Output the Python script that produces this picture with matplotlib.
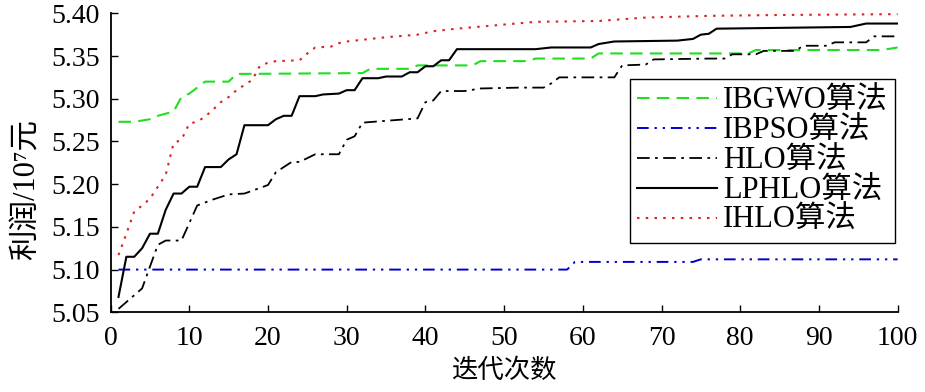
import matplotlib
matplotlib.use("Agg")
import matplotlib.pyplot as plt

plt.rcParams['font.family'] = ['Liberation Serif', 'DejaVu Serif', 'Noto Sans CJK SC']

# iteration / profit breakpoints
ibgwo_x = [1, 3, 5, 6, 8, 9, 10, 12, 15, 16, 32, 33, 38, 39, 46, 47, 53, 54, 61, 62, 81, 82, 98, 100]
ibgwo_y = [5.273, 5.273, 5.276, 5.280, 5.285, 5.302, 5.306, 5.320, 5.320, 5.329, 5.330, 5.335,
           5.335, 5.339, 5.339, 5.344, 5.344, 5.347, 5.347, 5.353, 5.353, 5.357, 5.357, 5.360]

ibpso_x = [1, 58, 59, 74, 75, 100]
ibpso_y = [5.100, 5.100, 5.109, 5.109, 5.112, 5.112]

hlo_x = [1, 3, 4, 6, 7, 9, 11, 13, 15, 17, 20, 21, 23, 24, 26, 29, 30, 31, 32, 39,
         40, 41, 42, 45, 47, 52, 55, 56, 57, 64, 65, 68, 69, 76, 78, 79, 82, 83, 87, 88,
         91, 92, 96, 97, 100]
hlo_y = [5.054, 5.070, 5.078, 5.129, 5.134, 5.134, 5.175, 5.182, 5.188, 5.189,
         5.199, 5.214, 5.226, 5.226, 5.235, 5.235, 5.252, 5.256, 5.272, 5.277,
         5.296, 5.298, 5.309, 5.309, 5.312, 5.313, 5.313, 5.318, 5.325, 5.325,
         5.339, 5.340, 5.346, 5.347, 5.347, 5.352, 5.352, 5.356, 5.356, 5.362,
         5.362, 5.366, 5.366, 5.373, 5.373]

lphlo_x = [1, 2, 3, 4, 5, 6, 7, 8, 9, 10, 11, 12, 14, 15, 16, 17, 20, 21, 22, 23,
           24, 26, 27, 29, 30, 31, 32, 34, 35, 37, 38, 39, 40, 41, 42, 43, 44, 54, 56, 61,
           62, 64, 72, 74, 75, 76, 77, 94, 96, 100]
lphlo_y = [5.068, 5.115, 5.115, 5.125, 5.142, 5.142, 5.170, 5.189, 5.189, 5.197,
           5.197, 5.220, 5.220, 5.229, 5.235, 5.269, 5.269, 5.276, 5.280, 5.280,
           5.303, 5.303, 5.305, 5.306, 5.310, 5.310, 5.324, 5.324, 5.326, 5.326,
           5.331, 5.331, 5.338, 5.338, 5.345, 5.345, 5.358, 5.358, 5.360, 5.360,
           5.364, 5.367, 5.368, 5.370, 5.375, 5.376, 5.382, 5.384, 5.388, 5.388]

ihlo_x = [1, 2, 3, 4, 5, 6, 7, 8, 9, 10, 11, 12, 13, 14, 15, 16, 17, 18, 19, 20,
          21, 24, 25, 26, 28, 29, 30, 32, 35, 39, 41, 44, 49, 54, 62, 68, 76, 85, 100]
ihlo_y = [5.117, 5.142, 5.168, 5.175, 5.183, 5.197, 5.211, 5.248, 5.252, 5.271,
          5.273, 5.279, 5.287, 5.296, 5.302, 5.310, 5.316, 5.322, 5.339, 5.342,
          5.344, 5.345, 5.353, 5.360, 5.361, 5.365, 5.367, 5.369, 5.372, 5.375,
          5.379, 5.382, 5.386, 5.390, 5.391, 5.395, 5.397, 5.398, 5.399]

labels = ['IBGWO算法', 'IBPSO算法', 'HLO算法', 'LPHLO算法', 'IHLO算法']

fig = plt.figure(figsize=(9.25, 3.92), dpi=100)
ax = fig.add_axes([0.1196, 0.2033, 0.8508, 0.7628])

ax.plot(ibgwo_x, ibgwo_y, color='#22dd22', lw=1.5, ls=(0, (6, 3.5)), label=labels[0])
ax.plot(ibpso_x, ibpso_y, color='#0000cc', lw=1.4, ls=(0, (6, 3, 1.2, 3, 1.2, 3)), label=labels[1])
ax.plot(hlo_x, hlo_y, color='black', lw=1.3, ls=(0, (7, 3, 1.5, 3)), label=labels[2])
ax.plot(lphlo_x, lphlo_y, color='black', lw=1.5, ls='-', label=labels[3])
ax.plot(ihlo_x, ihlo_y, color='#dd2222', lw=1.5, ls=(0, (1.2, 3)), label=labels[4])

ax.set_xlim(0, 100)
ax.set_ylim(5.05, 5.40)
ax.set_xticks(range(0, 101, 10))
ax.set_yticks([5.05, 5.10, 5.15, 5.20, 5.25, 5.30, 5.35, 5.40])
ax.set_yticklabels(['%.2f' % v for v in ax.get_yticks()])
ax.spines['top'].set_visible(False)
ax.spines['right'].set_visible(False)
ax.spines['left'].set_linewidth(1.3)
ax.spines['bottom'].set_linewidth(1.3)
ax.tick_params(direction='in', length=5, width=1, labelsize=20)
ax.tick_params(axis='x', pad=10)
ax.tick_params(axis='y', pad=8)

ax.set_xlabel('迭代次数', fontsize=19, labelpad=5)
ax.set_ylabel('利润/10⁷元', fontsize=22)
ax.yaxis.set_label_coords(-0.088, 0.41)

leg = ax.legend(loc='lower right', bbox_to_anchor=(0.997, 0.232), fontsize=22,
                handlelength=2.6, handletextpad=0.2, labelspacing=0.03,
                borderpad=0.25, borderaxespad=0, fancybox=False, framealpha=1)
leg.get_frame().set_edgecolor('black')
leg.get_frame().set_linewidth(1.0)

fig.savefig('out.png', dpi=100)
